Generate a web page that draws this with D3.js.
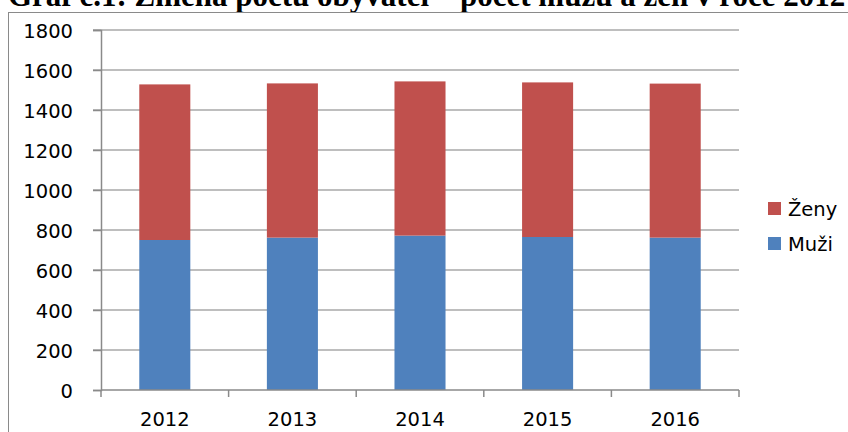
<!DOCTYPE html>
<html>
<head>
<meta charset="utf-8">
<script src="https://cdn.jsdelivr.net/npm/d3@7"></script>
<style>
  body { margin: 0; background: #fff; }
  svg { display: block; }
  text { font-family: "DejaVu Sans", sans-serif; fill: #000; }
</style>
</head>
<body>
<svg width="848" height="432"></svg>
<script>
// values
var years = ["2012", "2013", "2014", "2015", "2016"];
var muzi = [750, 762, 772, 765, 762];
var zeny = [778, 771, 771, 773, 770];
var seriesNames = ["Muži", "Ženy"];
var seriesColors = ["#4f81bd", "#c0504d"];
var yTicks = [0, 200, 400, 600, 800, 1000, 1200, 1400, 1600, 1800];

var svg = d3.select("svg"),
	plot = {left: 101, right: 739, top: 30, bottom: 390};

// title, cut at the top like in the source
svg.append("text")
	.attr("x", 8)
	.attr("y", 6)
	.style("font-family", "'Liberation Serif', 'Times New Roman', serif")
	.style("font-weight", "bold")
	.style("font-size", "31px")
	.text("Graf č.1: Změna počtu obyvatel – počet mužů a žen v roce 2012–2016");

// outer frame
svg.append("rect")
	.attr("x", 8.5).attr("y", 12.5)
	.attr("width", 900).attr("height", 500)
	.attr("fill", "none")
	.attr("stroke", "#8a8a8a")
	.attr("stroke-width", 1);

var x = d3.scaleBand()
	.domain(years)
	.range([plot.left, plot.right])
	.paddingInner(0).paddingOuter(0);

var y = d3.scaleLinear()
	.domain([0, 1800])
	.range([plot.bottom, plot.top]);

// gridlines
svg.append("g")
	.selectAll("line")
	.data(yTicks.slice(1))
	.enter().append("line")
		.attr("x1", plot.left - 8)
		.attr("x2", plot.right)
		.attr("y1", function(d) { return y(d); })
		.attr("y2", function(d) { return y(d); })
		.attr("stroke", "#a8a8a8")
		.attr("stroke-width", 1.5);

// stacked data
var table = years.map(function(yr, i) {
	return {year: yr, "Muži": muzi[i], "Ženy": zeny[i]};
});
var stack = d3.stack().keys(seriesNames)(table);

var barW = x.bandwidth() * 0.4;

svg.append("g")
	.selectAll("g")
	.data(stack)
	.enter().append("g")
		.attr("fill", function(d, i) { return seriesColors[i]; })
	.selectAll("rect")
	.data(function(d) { return d; })
	.enter().append("rect")
		.attr("x", function(d) { return x(d.data.year) + (x.bandwidth() - barW) / 2; })
		.attr("width", barW)
		.attr("y", function(d) { return y(d[1]); })
		.attr("height", function(d) { return y(d[0]) - y(d[1]); });

// y axis
var yAxis = d3.axisLeft(y)
	.tickValues(yTicks)
	.tickFormat(d3.format("d"))
	.tickSize(8)
	.tickPadding(20);

var gy = svg.append("g")
	.attr("transform", "translate(" + plot.left + ",0)")
	.call(yAxis);
gy.select(".domain").attr("stroke", "#8a8a8a").attr("stroke-width", 1.5);
gy.selectAll(".tick line").attr("stroke", "#8a8a8a").attr("stroke-width", 1.5);
gy.selectAll(".tick text")
	.style("font-family", "'DejaVu Sans', sans-serif")
	.style("font-size", "19.5px")
	.attr("dy", "0.37em");

// x axis - ticks sit between categories
var gx = svg.append("g")
	.attr("transform", "translate(0," + plot.bottom + ")");
gx.append("line")
	.attr("x1", plot.left).attr("x2", plot.right)
	.attr("stroke", "#8a8a8a").attr("stroke-width", 1.5);
gx.selectAll(".sep")
	.data(years.concat(["end"]))
	.enter().append("line")
		.attr("class", "sep")
		.attr("x1", function(d, i) { return plot.left + i * x.step(); })
		.attr("x2", function(d, i) { return plot.left + i * x.step(); })
		.attr("y1", 0).attr("y2", 7)
		.attr("stroke", "#8a8a8a").attr("stroke-width", 1.5);
gx.selectAll(".lbl")
	.data(years)
	.enter().append("text")
		.attr("class", "lbl")
		.attr("x", function(d) { return x(d) + x.bandwidth() / 2; })
		.attr("y", 36)
		.attr("text-anchor", "middle")
		.style("font-size", "19.5px")
		.text(function(d) { return d; });

// legend (Ženy on top)
var legend = svg.append("g")
	.attr("transform", "translate(768,202)")
	.selectAll("g")
	.data([1, 0])
	.enter().append("g")
		.attr("transform", function(d, i) { return "translate(0," + i * 35 + ")"; });
legend.append("rect")
	.attr("width", 13).attr("height", 13)
	.attr("fill", function(d) { return seriesColors[d]; });
legend.append("text")
	.attr("x", 20).attr("y", 14)
	.style("font-size", "19.5px")
	.text(function(d) { return seriesNames[d]; });
</script>
</body>
</html>
